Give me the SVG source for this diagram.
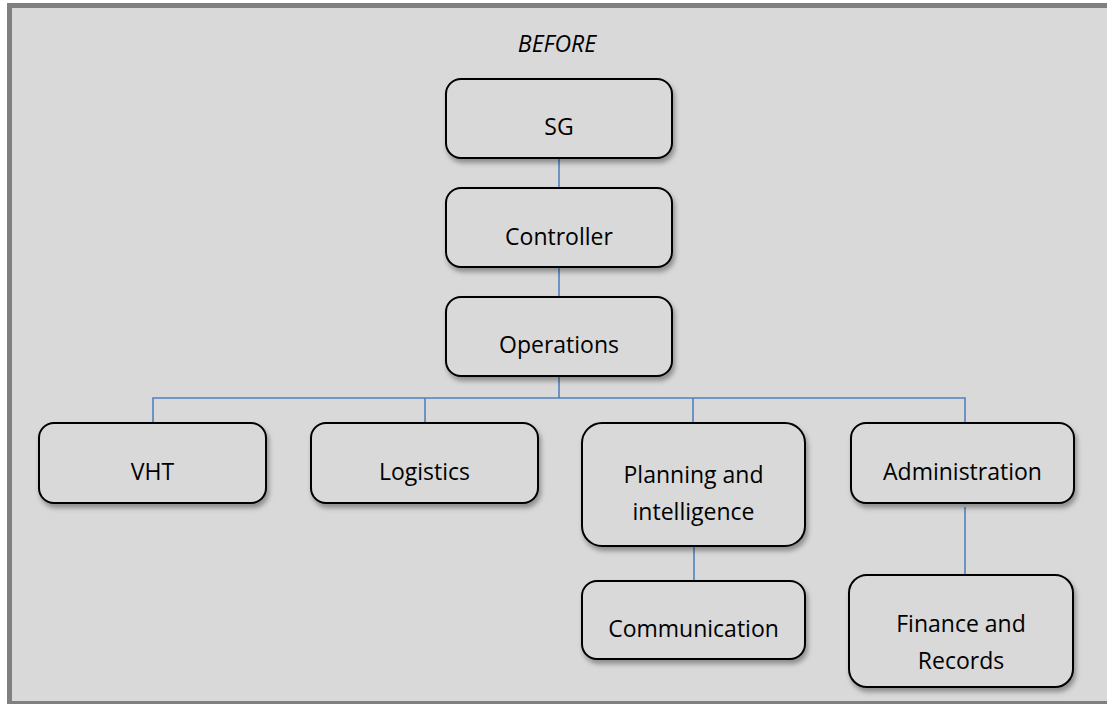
<svg xmlns="http://www.w3.org/2000/svg" width="1107" height="704" viewBox="0 0 1107 704">
<defs>
<filter id="sh" x="-10%" y="-10%" width="130%" height="140%">
<feDropShadow dx="2" dy="4" stdDeviation="2.5" flood-color="#000" flood-opacity="0.35"/>
</filter>
</defs>
<style>
.box{fill:#d9d9d9;stroke:#000;stroke-width:2;filter:url(#sh)}
.t{font-family:"Open Sans","Noto Sans",sans-serif;font-size:23px;fill:#000;text-anchor:middle}
.c{stroke:#4f81bd;stroke-width:1.6;fill:none}
</style>
<rect x="9.5" y="5.5" width="1110" height="698" fill="#d9d9d9" stroke="#808080" stroke-width="5"/>
<text class="t" x="557" y="52" font-style="italic" font-size="24">BEFORE</text>
<g id="connectors">
<line class="c" x1="559" y1="158" x2="559" y2="188"/>
<line class="c" x1="559" y1="267" x2="559" y2="297"/>
<line class="c" x1="559" y1="376" x2="559" y2="398"/>
<polyline class="c" points="153,423 153,398 965,398 965,423"/>
<line class="c" x1="425" y1="398" x2="425" y2="423"/>
<line class="c" x1="693" y1="398" x2="693" y2="423"/>
<line class="c" x1="694" y1="546" x2="694" y2="581"/>
<line class="c" x1="965" y1="507" x2="965" y2="575"/>
</g>
<g id="sg"><rect class="box" x="446" y="79" width="226" height="79" rx="15"/><text class="t" x="559" y="135">SG</text></g>
<g id="controller"><rect class="box" x="446" y="188" width="226" height="79" rx="15"/><text class="t" x="559" y="245">Controller</text></g>
<g id="operations"><rect class="box" x="446" y="297" width="226" height="79" rx="15"/><text class="t" x="559" y="353">Operations</text></g>
<g id="vht"><rect class="box" x="39" y="423" width="227" height="80" rx="15"/><text class="t" x="152.5" y="480">VHT</text></g>
<g id="logistics"><rect class="box" x="311" y="423" width="227" height="80" rx="15"/><text class="t" x="424.5" y="480">Logistics</text></g>
<g id="planning"><rect class="box" x="582" y="423" width="223" height="123" rx="20"/><text class="t" x="693.5" y="483">Planning and</text><text class="t" x="693.5" y="520">intelligence</text></g>
<g id="administration"><rect class="box" x="851" y="423" width="223" height="80" rx="15"/><text class="t" x="962.5" y="480">Administration</text></g>
<g id="communication"><rect class="box" x="582" y="581" width="223" height="78" rx="15"/><text class="t" x="693.5" y="637">Communication</text></g>
<g id="finance"><rect class="box" x="849" y="575" width="224" height="112" rx="18"/><text class="t" x="961" y="632">Finance and</text><text class="t" x="961" y="669">Records</text></g>
</svg>
